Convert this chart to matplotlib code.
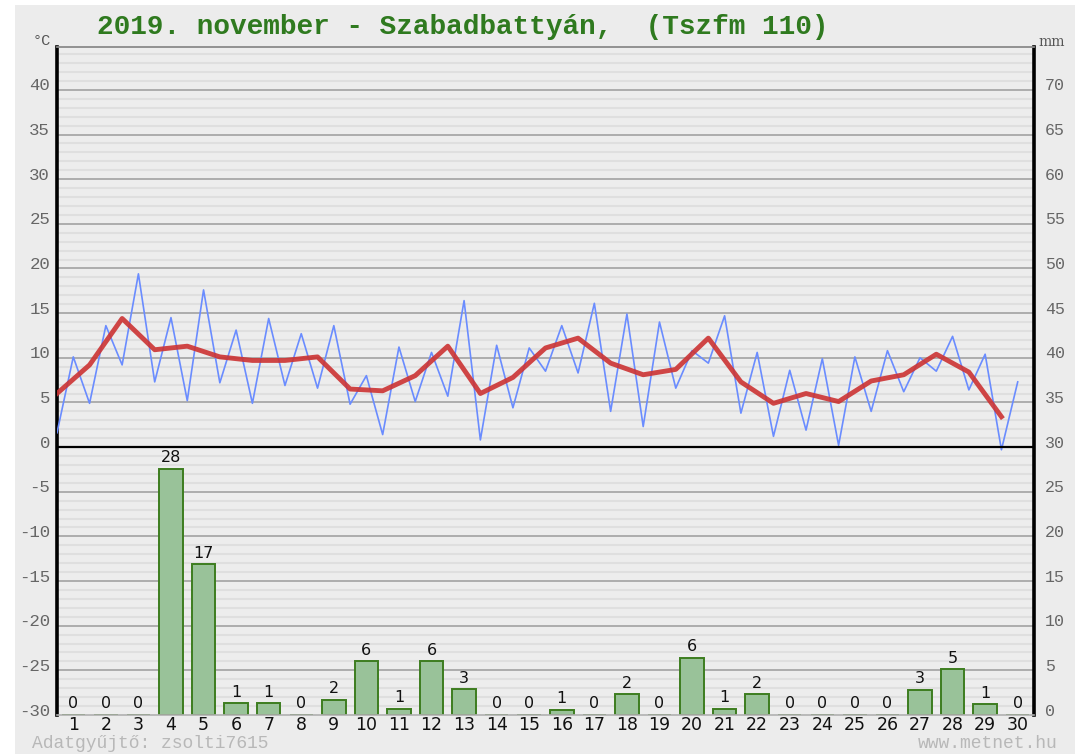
import numpy as np
import matplotlib
matplotlib.use('Agg')
import matplotlib.pyplot as plt
import matplotlib.transforms as mtransforms
from matplotlib.patches import Rectangle

# Data (November 2019, Szabadbattyán)
days = list(range(1, 31))
t_min = [1.6, 4.9, 9.2, 7.3, 5.2, 7.2, 4.9, 6.9, 6.6, 4.8, 1.4, 5.1, 5.7, 0.8, 4.4,
         8.5, 8.3, 4.0, 2.3, 6.6, 9.4, 3.8, 1.2, 1.9, 0.2, 4.0, 6.2, 8.5, 6.4, -0.3]
t_max = [10.1, 13.6, 19.4, 14.5, 17.6, 13.1, 14.4, 12.7, 13.6, 8.0, 11.2, 10.6, 16.4, 11.4, 11.1,
         13.6, 16.1, 14.9, 14.0, 10.8, 14.7, 10.6, 8.6, 9.9, 10.1, 10.8, 10.0, 12.4, 10.4, 7.3]
t_avg = [6.0, 9.2, 14.4, 10.9, 11.3, 10.1, 9.7, 9.7, 10.1, 6.5, 6.3, 8.0, 11.3, 6.0, 7.8,
         11.1, 12.2, 9.4, 8.1, 8.7, 12.2, 7.3, 4.9, 6.0, 5.1, 7.4, 8.1, 10.4, 8.4, 3.4]
rain = [0, 0, 0, 27.6, 16.9, 1.3, 1.3, 0, 1.7, 6.0, 0.7, 6.0, 2.9, 0, 0,
        0.6, 0, 2.3, 0, 6.4, 0.7, 2.3, 0, 0, 0, 0, 2.8, 5.1, 1.2, 0]
rain_labels = [0, 0, 0, 28, 17, 1, 1, 0, 2, 6, 1, 6, 3, 0, 0,
               1, 0, 2, 0, 6, 1, 2, 0, 0, 0, 0, 3, 5, 1, 0]

title = '2019. november - Szabadbattyán,  (Tszfm 110)'
mono = 'Liberation Mono'

fig = plt.figure(figsize=(10.75, 7.54), dpi=100, facecolor='white')
fig.patches.append(Rectangle((15 / 1075, 0), 1, 749 / 754, transform=fig.transFigure,
                             facecolor='#ececec', edgecolor='none', zorder=-10))
ax = fig.add_axes([57 / 1075, 39 / 754, 977 / 1075, 668 / 754])
ax.set_facecolor('#ededed')

ymin, ymax = -30, 44.8
ax.set_xlim(0.5, 30.5)
ax.set_ylim(ymin, ymax)

# grid lines
for v in range(-29, 45):
    if v == 0:
        continue
    if v % 5 == 0:
        ax.axhline(v, color='#a8a8a8', lw=1.3, zorder=1)
    else:
        ax.axhline(v, color='#dfdfdf', lw=1.5, zorder=1)
ax.axhline(0, color='black', lw=1.6, zorder=4)

# precipitation bars (mm, drawn from the -30 °C baseline)
d = np.array(days)
r = np.array(rain)
ax.bar(d, r, width=0.72, bottom=ymin, color='#99c299', edgecolor='#3d7d1f',
       linewidth=1.4, zorder=2)
for x, h, lab in zip(d, r, rain_labels):
    ax.text(x, ymin + h + 0.4, str(lab), ha='center', va='bottom',
            fontsize=11.5, color='#111111', zorder=5)

# temperatures: minimum at day start, maximum at mid-day
bx = np.empty(60)
by = np.empty(60)
bx[0::2] = d - 0.5
bx[1::2] = d
by[0::2] = t_min
by[1::2] = t_max
ax.plot(bx, by, color='#6a8cff', lw=1.2, zorder=3)
ax.plot(d - 0.5, t_avg, color='#cc3333', lw=3.5, alpha=0.9,
        solid_joinstyle='round', zorder=3)

# axes styling
for s in ['left', 'right']:
    ax.spines[s].set_linewidth(2.6)
    ax.spines[s].set_color('black')
ax.spines['top'].set_color('#8a8a8a')
ax.spines['top'].set_linewidth(1.3)
ax.spines['bottom'].set_color('#b0b0b0')
ax.spines['bottom'].set_linewidth(1.2)

ax.set_xticks(days)
ax.set_xticklabels([str(i) for i in days], fontsize=12.5, color='#111111')
ax.set_yticks(range(-30, 45, 5))
ax.set_yticklabels([str(v) for v in range(-30, 45, 5)], fontsize=12.5,
                   color='#666666', family=mono)
ax.tick_params(axis='both', length=0)
ax.tick_params(axis='x', pad=1)
ax.tick_params(axis='y', pad=5)

ax2 = ax.twinx()
ax2.set_ylim(ymin + 30, ymax + 30)
ax2.set_yticks(range(0, 75, 5))
ax2.set_yticklabels([str(v) for v in range(0, 75, 5)], fontsize=12,
                    color='#666666', family=mono)
ax2.tick_params(axis='y', length=0, pad=8)
for s in ax2.spines.values():
    s.set_visible(False)

offset = mtransforms.ScaledTranslation(0, 0.055, fig.dpi_scale_trans)
for lab in ax.get_yticklabels() + ax2.get_yticklabels():
    lab.set_transform(lab.get_transform() + offset)

fig.text(463 / 1075, 1 - 27 / 754, title, ha='center', va='center', fontsize=20,
         fontweight='bold', color='#2f7a1f', family=mono)
fig.text(42 / 1075, 1 - 41 / 754, '°C', ha='center', va='center', fontsize=11,
         color='#555555', family=mono)
fig.text(1052 / 1075, 1 - 42 / 754, 'mm', ha='center', va='center', fontsize=10,
         color='#555555', family='DejaVu Serif')
fig.text(32 / 1075, 1 - 743 / 754, 'Adatgyűjtő: zsolti7615', ha='left', va='center',
         fontsize=13, color='#b8b8b8', family=mono)
fig.text(1058 / 1075, 1 - 743 / 754, 'www.metnet.hu', ha='right', va='center',
         fontsize=13, color='#b8b8b8', family=mono)

fig.savefig('out.png', dpi=100, facecolor=fig.get_facecolor())
